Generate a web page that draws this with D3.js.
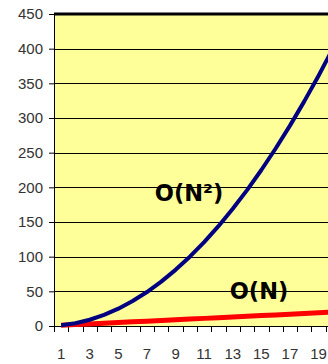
<!DOCTYPE html>
<html><head><meta charset="utf-8">
<script src="https://cdn.jsdelivr.net/npm/d3@7"></script>
<style>
html,body{margin:0;padding:0;overflow:hidden;background:#fff;}
svg{display:block;}
</style></head>
<body>
<svg id="c" width="328" height="364"></svg>
<script>
const categories = [1,2,3,4,5,6,7,8,9,10,11,12,13,14,15,16,17,18,19,20];
const quadValues = [1,4,9,16,25,36,49,64,81,100,121,144,169,196,225,256,289,324,361,400];
const linearValues = [1,2,3,4,5,6,7,8,9,10,11,12,13,14,15,16,17,18,19,20];
const yTicks = [0,50,100,150,200,250,300,350,400,450];
const xTickLabels = [1,3,5,7,9,11,13,15,17,19];
const labelQuad = "O(N²)";
const labelLin = "O(N)";

(function(){
const svg = d3.select("#c");
const pL = 54, pR = 340, pT = 14, pB = 326;
const x = d3.scaleBand().domain(categories).range([pL, pR]).padding(0);
const y = d3.scaleLinear().domain([0,450]).range([pB, pT]);
const cx = d => x(d) + x.bandwidth()/2;

svg.append("rect").attr("x", pL).attr("y", pT).attr("width", pR-pL).attr("height", pB-pT).attr("fill", "#FFFF99");

svg.append("g").selectAll("line").data(yTicks.filter(t => t>0 && t<450)).join("line")
  .attr("x1", pL).attr("x2", pR).attr("y1", d=>Math.round(y(d))+0.5).attr("y2", d=>Math.round(y(d))+0.5)
  .attr("stroke", "#000").attr("stroke-width", 1);
svg.append("line").attr("x1", pL).attr("x2", pR).attr("y1", y(450)).attr("y2", y(450))
  .attr("stroke", "#000").attr("stroke-width", 3);

const yAxis = d3.axisLeft(y).tickValues(yTicks).tickSize(5).tickPadding(6);
const gy = svg.append("g").attr("transform", `translate(${pL},0)`).call(yAxis);
gy.select(".domain").attr("stroke", "#000");
gy.selectAll("line").attr("stroke", "#000");
gy.selectAll("text").attr("font-family", "Liberation Sans, Arial, sans-serif").attr("font-size", 15).attr("fill", "#333");

const bounds = categories.map(c => x(c)).concat([pR]);
svg.append("line").attr("x1", pL).attr("x2", pR).attr("y1", pB+0.5).attr("y2", pB+0.5).attr("stroke", "#000");
svg.append("g").selectAll("line").data(bounds).join("line")
  .attr("x1", d=>Math.round(d)+0.5).attr("x2", d=>Math.round(d)+0.5).attr("y1", pB).attr("y2", pB+6)
  .attr("stroke", "#000");
svg.append("g").selectAll("text").data(xTickLabels).join("text")
  .attr("x", d => cx(d)).attr("y", 359).attr("text-anchor", "middle")
  .attr("font-family", "Liberation Sans, Arial, sans-serif").attr("font-size", 15).attr("fill", "#333")
  .text(d => d);

const line = d3.line().x((d,i) => cx(categories[i])).y(d => y(d));
svg.append("path").datum(linearValues).attr("d", line).attr("fill","none").attr("stroke","#FF0000").attr("stroke-width",5).attr("stroke-linejoin","round");
svg.append("path").datum(quadValues).attr("d", line).attr("fill","none").attr("stroke","#000080").attr("stroke-width",4).attr("stroke-linejoin","round");

svg.append("text").attr("x", 189).attr("y", 200.5).attr("text-anchor","middle")
  .attr("font-family","DejaVu Sans, Verdana, sans-serif").attr("font-weight","bold").attr("font-size",22.5).attr("fill","#000").text(labelQuad);
svg.append("text").attr("x", 259).attr("y", 298.5).attr("text-anchor","middle")
  .attr("font-family","DejaVu Sans, Verdana, sans-serif").attr("font-weight","bold").attr("font-size",22.5).attr("fill","#000").text(labelLin);
})();
</script>
</body></html>
